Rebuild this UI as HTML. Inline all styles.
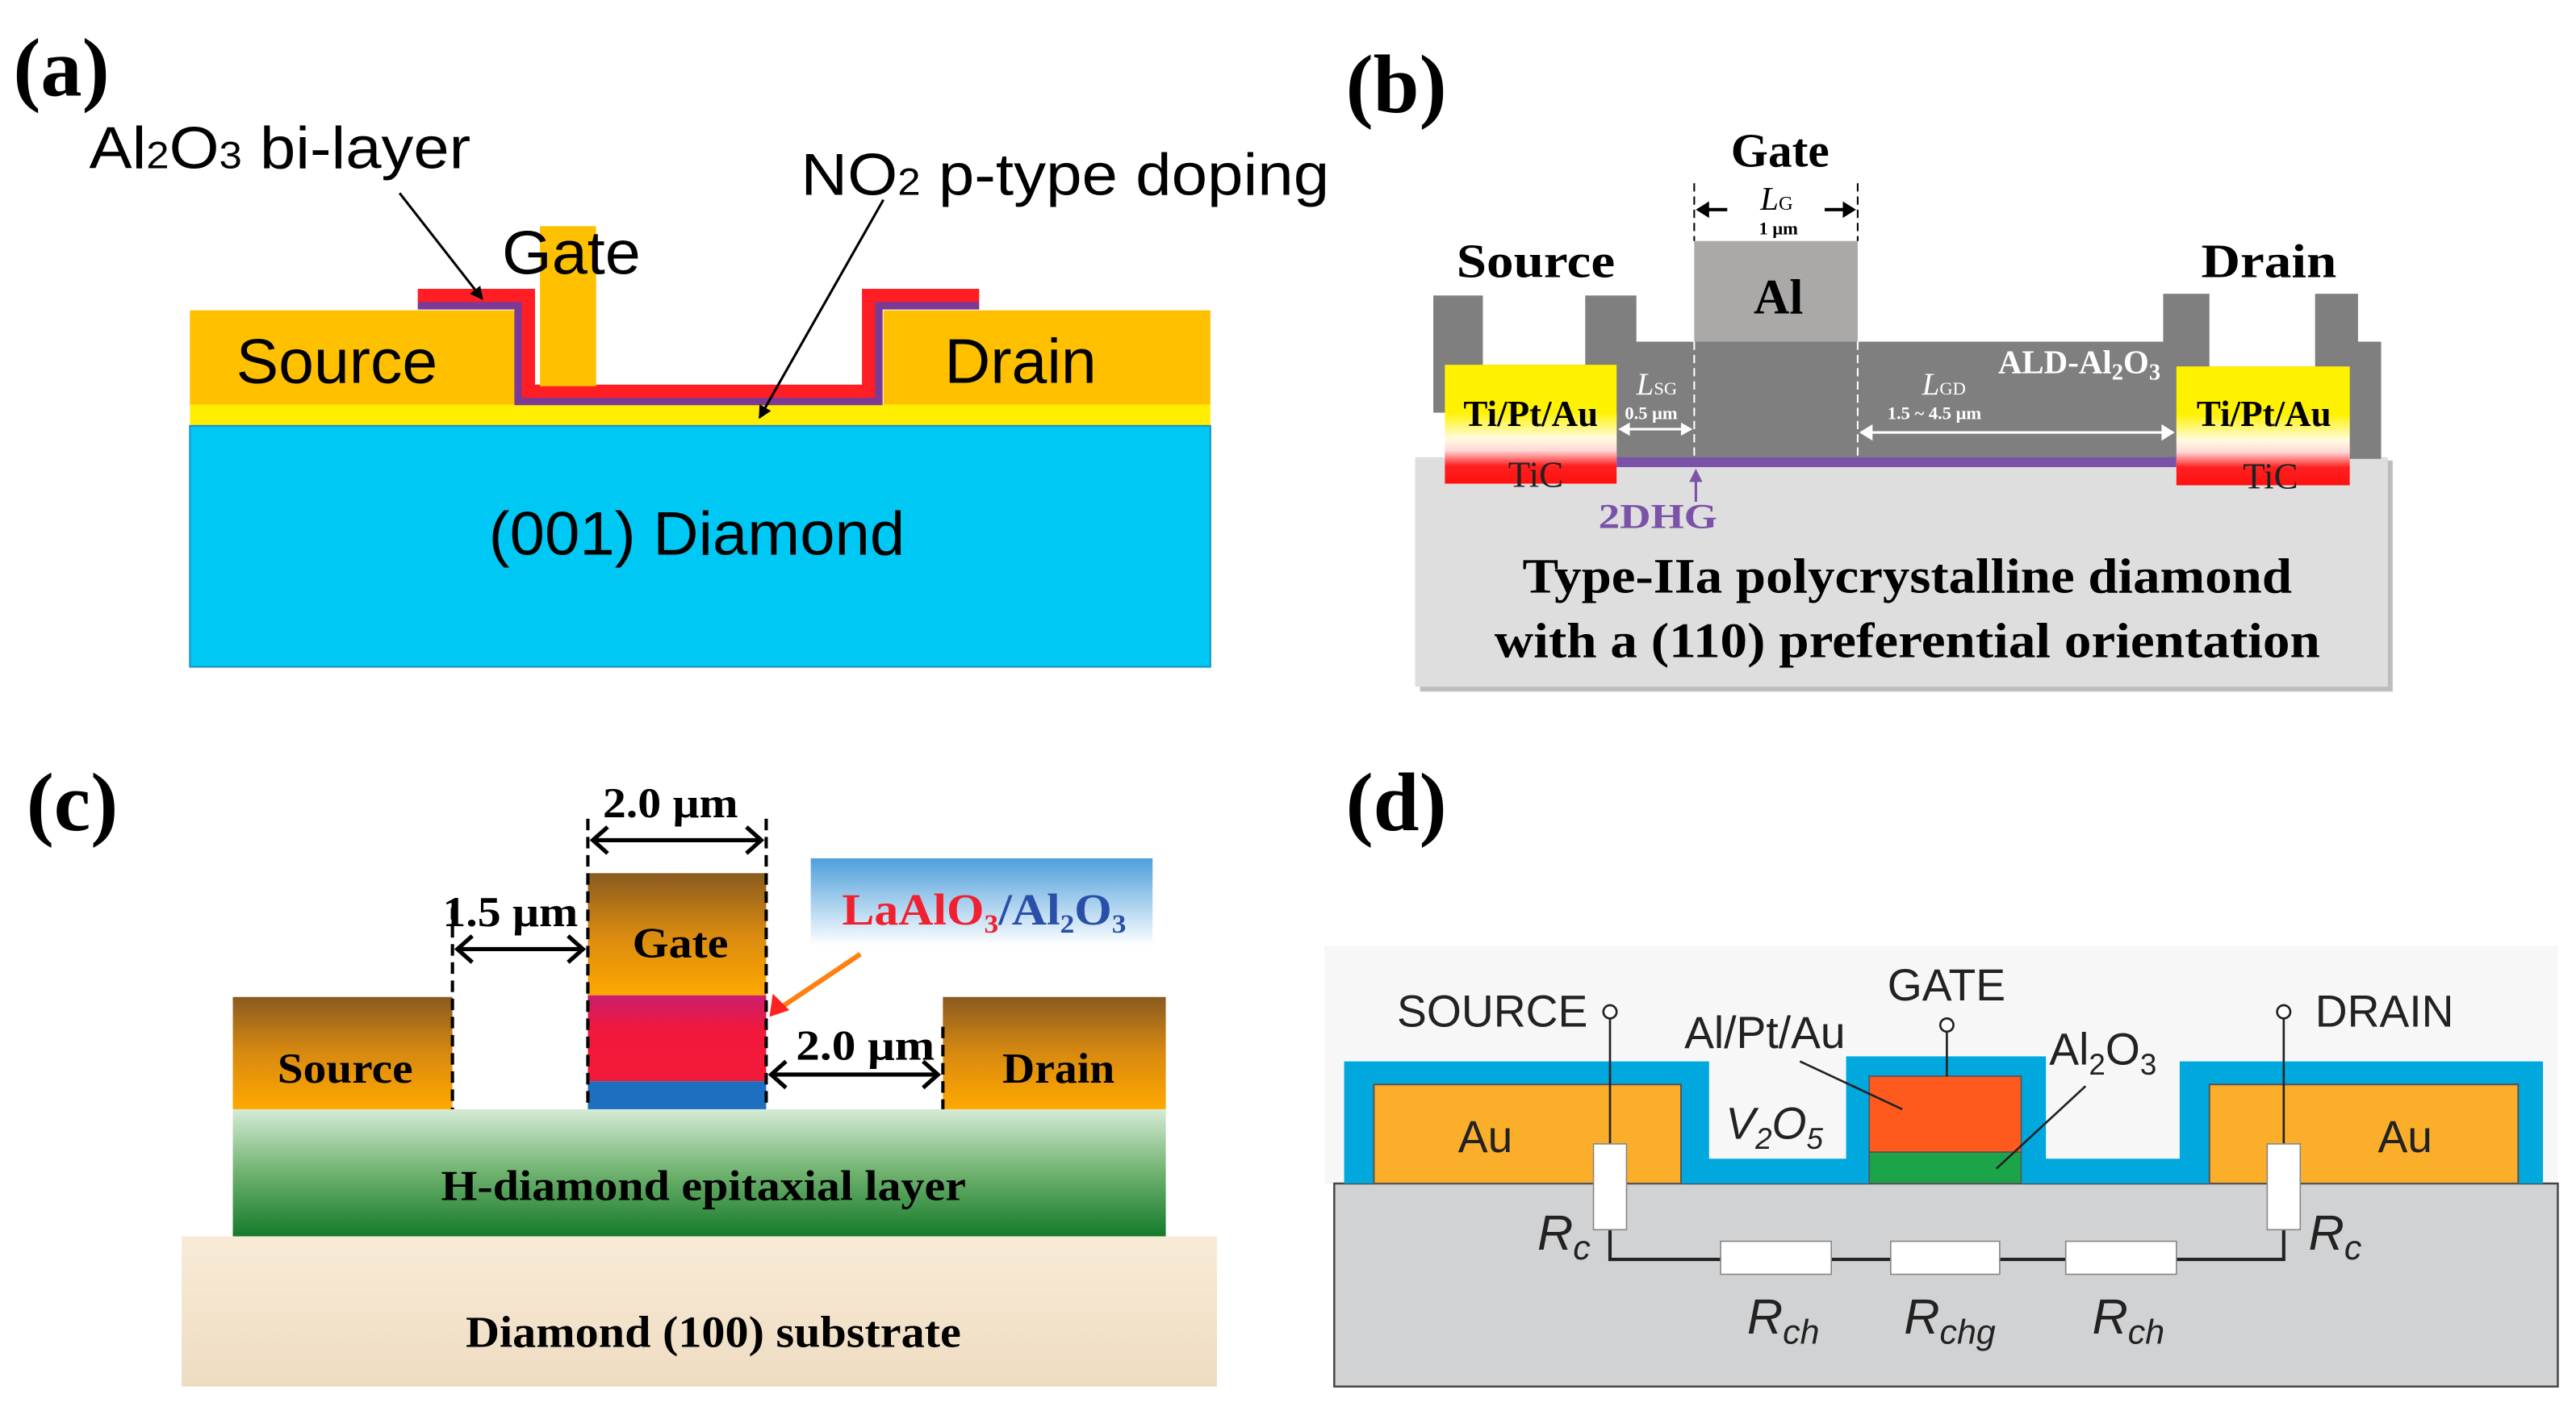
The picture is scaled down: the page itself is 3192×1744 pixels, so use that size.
<!DOCTYPE html>
<html><head><meta charset="utf-8">
<style>html,body{margin:0;padding:0;background:#fff}svg{display:block}
.s{font-family:"Liberation Sans",sans-serif}
.r{font-family:"Liberation Serif",serif;font-weight:bold}
</style></head><body>
<svg width="3192" height="1744" viewBox="0 0 1560 852.4" preserveAspectRatio="none" xmlns="http://www.w3.org/2000/svg">
<defs>
<marker id="ab" markerWidth="8" markerHeight="8" refX="7" refY="4" orient="auto" markerUnits="userSpaceOnUse"><path d="M0,0 L8,4 L0,8z" fill="#000"/></marker>
<linearGradient id="tpa" x1="0" y1="0" x2="0" y2="1"><stop offset="0" stop-color="#FFF200"/><stop offset="0.4" stop-color="#FFF200"/><stop offset="0.62" stop-color="#FFFBE0"/><stop offset="0.72" stop-color="#FFD8D8"/><stop offset="0.85" stop-color="#FF2020"/><stop offset="1" stop-color="#FF1010"/></linearGradient>
<linearGradient id="br" x1="0" y1="0" x2="0" y2="1"><stop offset="0" stop-color="#8A5A20"/><stop offset="0.5" stop-color="#D88A10"/><stop offset="1" stop-color="#FFA800"/></linearGradient>
<linearGradient id="gr" x1="0" y1="0" x2="0" y2="1"><stop offset="0" stop-color="#D6EBD6"/><stop offset="0.5" stop-color="#6FB26F"/><stop offset="1" stop-color="#157A2A"/></linearGradient>
<linearGradient id="be" x1="0" y1="0" x2="0" y2="1"><stop offset="0" stop-color="#F8EBD6"/><stop offset="1" stop-color="#EEDCC2"/></linearGradient>
<linearGradient id="bl" x1="0" y1="0" x2="0" y2="1"><stop offset="0" stop-color="#4D9FDB"/><stop offset="1" stop-color="#FFFFFF"/></linearGradient>
<linearGradient id="rd" x1="0" y1="0" x2="0" y2="1"><stop offset="0" stop-color="#C81E6E"/><stop offset="0.4" stop-color="#F2183C"/><stop offset="1" stop-color="#F21A3A"/></linearGradient>
<linearGradient id="oa" x1="0" y1="0" x2="1" y2="1"><stop offset="0" stop-color="#FFE000"/><stop offset="1" stop-color="#FF2020"/></linearGradient>
</defs>

<!-- (a) -->
<text x="8" y="58" class="r" font-size="50">(a)</text>
<rect x="115" y="188" width="618" height="58" fill="#FFC000"/>
<rect x="312" y="150" width="223" height="96" fill="#fff"/>
<rect x="115" y="245" width="618" height="13" fill="#FFEE00"/>
<rect x="115" y="258" width="618" height="146" fill="#00C8F4" stroke="#1A8FD0" stroke-width="1"/>
<path d="M253,185 L314,185 L314,243 L532,243 L532,185 L593,185" fill="none" stroke="#7B3A96" stroke-width="5"/>
<path d="M253,179 L320,179 L320,237 L526,237 L526,179 L593,179" fill="none" stroke="#FF1E23" stroke-width="8"/>
<rect x="327" y="137" width="34" height="97" fill="#FFC000"/>
<text x="143" y="232" class="s" font-size="38" textLength="122" lengthAdjust="spacingAndGlyphs">Source</text>
<text x="572" y="232" class="s" font-size="38" textLength="92" lengthAdjust="spacingAndGlyphs">Drain</text>
<text x="304" y="166" class="s" font-size="37" textLength="84" lengthAdjust="spacingAndGlyphs">Gate</text>
<text x="296" y="336" class="s" font-size="37" textLength="252" lengthAdjust="spacingAndGlyphs">(001) Diamond</text>
<text x="54" y="102" class="s" font-size="36" textLength="231" lengthAdjust="spacingAndGlyphs">Al<tspan font-size="23">2</tspan>O<tspan font-size="23">3</tspan> bi-layer</text>
<text x="485" y="118" class="s" font-size="36" textLength="320" lengthAdjust="spacingAndGlyphs">NO<tspan font-size="23">2</tspan> p-type doping</text>
<line x1="242" y1="117" x2="292" y2="181" stroke="#000" stroke-width="1.5" marker-end="url(#ab)"/>
<line x1="535" y1="121" x2="460" y2="253" stroke="#000" stroke-width="1.5" marker-end="url(#ab)"/>

<!-- (b) -->
<text x="815" y="68" class="r" font-size="50">(b)</text>
<rect x="857" y="277" width="589" height="139" fill="#DEDEDE"/>
<path d="M1446,279 L1449,279 L1449,419 L860,419 L860,416 L1446,416z" fill="#BDBDBD"/>
<path d="M868,179 L898,179 L898,221 L960,221 L960,179 L991,179 L991,207 L1310,207 L1310,178 L1338,178 L1338,222 L1402,222 L1402,178 L1428,178 L1428,207 L1442,207 L1442,278 L979,278 L979,250 L898,250 L898,250 L868,250z" fill="#7F7F7F"/>
<rect x="1026" y="146" width="99" height="61" fill="#ABA8A8"/>
<rect x="979" y="277" width="339" height="6" fill="#7B52A8"/>
<rect x="875" y="221" width="104" height="72" fill="url(#tpa)"/>
<rect x="1318" y="222" width="105" height="72" fill="url(#tpa)"/>
<g stroke="#fff" stroke-width="1" stroke-dasharray="5,3"><line x1="1026" y1="207" x2="1026" y2="277"/><line x1="1125" y1="207" x2="1125" y2="277"/></g>
<g stroke="#000" stroke-width="1" stroke-dasharray="5,3"><line x1="1026" y1="111" x2="1026" y2="146"/><line x1="1125" y1="111" x2="1125" y2="146"/></g>
<line x1="1029" y1="127" x2="1046" y2="127" stroke="#000" stroke-width="2"/><path d="M1027,127 L1035,122 L1035,132z"/>
<line x1="1105" y1="127" x2="1122" y2="127" stroke="#000" stroke-width="2"/><path d="M1124,127 L1116,122 L1116,132z"/>
<text x="1066" y="127" font-family="Liberation Serif,serif" font-style="italic" font-size="20">L<tspan font-size="12" font-style="normal">G</tspan></text>
<text x="1077" y="142" class="r" font-size="11" text-anchor="middle">1 μm</text>
<text x="1077" y="190" class="r" font-size="30" text-anchor="middle">Al</text>
<text x="1078" y="101" class="r" font-size="29" text-anchor="middle">Gate</text>
<text x="882" y="168" class="r" font-size="29" textLength="96" lengthAdjust="spacingAndGlyphs">Source</text>
<text x="1333" y="168" class="r" font-size="29" textLength="82" lengthAdjust="spacingAndGlyphs">Drain</text>
<text x="927" y="258" class="r" font-size="22" text-anchor="middle">Ti/Pt/Au</text>
<text x="1371" y="258" class="r" font-size="22" text-anchor="middle">Ti/Pt/Au</text>
<text x="930" y="295" font-family="Liberation Serif,serif" font-size="22" text-anchor="middle" fill="#222">TiC</text>
<text x="1375" y="296" font-family="Liberation Serif,serif" font-size="22" text-anchor="middle" fill="#222">TiC</text>
<text x="1210" y="226" class="r" font-size="20" fill="#fff">ALD-Al<tspan font-size="14" dy="4">2</tspan><tspan dy="-4">O</tspan><tspan font-size="14" dy="4">3</tspan></text>
<text x="991" y="239" font-family="Liberation Serif,serif" font-style="italic" font-size="19" fill="#fff">L<tspan font-size="11" font-style="normal">SG</tspan></text>
<text x="984" y="254" class="r" font-size="11" fill="#fff">0.5 μm</text>
<text x="1164" y="239" font-family="Liberation Serif,serif" font-style="italic" font-size="19" fill="#fff">L<tspan font-size="11" font-style="normal">GD</tspan></text>
<text x="1143" y="254" class="r" font-size="11" fill="#fff">1.5 ~ 4.5 μm</text>
<line x1="982" y1="260" x2="1023" y2="260" stroke="#fff" stroke-width="1.5"/><path d="M980,260 L987,256 L987,264z M1025,260 L1018,256 L1018,264z" fill="#fff"/>
<line x1="1128" y1="262" x2="1315" y2="262" stroke="#fff" stroke-width="1.5"/><path d="M1126,262 L1134,257 L1134,267z M1317,262 L1309,257 L1309,267z" fill="#fff"/>
<line x1="1027" y1="304" x2="1027" y2="290" stroke="#7B52A8" stroke-width="1.5"/><path d="M1027,284 L1023,292 L1031,292z" fill="#7B52A8"/>
<text x="968" y="320" class="r" font-size="21" fill="#7B52A8" textLength="72" lengthAdjust="spacingAndGlyphs">2DHG</text>
<text x="922" y="359" class="r" font-size="30" textLength="466" lengthAdjust="spacingAndGlyphs">Type-IIa polycrystalline diamond</text>
<text x="905" y="398" class="r" font-size="30" textLength="500" lengthAdjust="spacingAndGlyphs">with a (110) preferential orientation</text>

<!-- (c) -->
<text x="16" y="503" class="r" font-size="50">(c)</text>
<rect x="110" y="749" width="627" height="91" fill="url(#be)"/>
<rect x="141" y="672" width="565" height="77" fill="url(#gr)"/>
<rect x="141" y="604" width="133" height="68" fill="url(#br)"/>
<rect x="571" y="604" width="135" height="68" fill="url(#br)"/>
<rect x="356" y="529" width="108" height="74" fill="url(#br)"/>
<rect x="356" y="603" width="108" height="52" fill="url(#rd)"/>
<rect x="356" y="655" width="108" height="17" fill="#1E6FC0"/>
<g stroke="#000" stroke-width="2" stroke-dasharray="7,4"><line x1="274" y1="550" x2="274" y2="672"/><line x1="356" y1="496" x2="356" y2="672"/><line x1="464" y1="496" x2="464" y2="672"/><line x1="571" y1="622" x2="571" y2="672"/></g>
<g stroke="#000" stroke-width="2.5" fill="none">
<line x1="359" y1="509" x2="461" y2="509"/><path d="M368,501 L359,509 L368,517 M452,501 L461,509 L452,517"/>
<line x1="277" y1="575" x2="353" y2="575"/><path d="M286,567 L277,575 L286,583 M344,567 L353,575 L344,583"/>
<line x1="467" y1="651" x2="568" y2="651"/><path d="M476,643 L467,651 L476,659 M559,643 L568,651 L559,659"/>
</g>
<text x="365" y="495" class="r" font-size="26" textLength="82" lengthAdjust="spacingAndGlyphs">2.0 μm</text>
<text x="268" y="561" class="r" font-size="26" textLength="82" lengthAdjust="spacingAndGlyphs">1.5 μm</text>
<text x="482" y="642" class="r" font-size="26" textLength="84" lengthAdjust="spacingAndGlyphs">2.0 μm</text>
<rect x="491" y="520" width="207" height="53" fill="url(#bl)"/>
<text x="510" y="560" font-family="Liberation Serif,serif" font-weight="bold" font-size="27" fill="#F02030" textLength="172" lengthAdjust="spacingAndGlyphs">LaAlO<tspan font-size="16" dy="5">3</tspan><tspan dy="-5" fill="#2A4FA8">/Al</tspan><tspan font-size="16" dy="5" fill="#2A4FA8">2</tspan><tspan dy="-5" fill="#2A4FA8">O</tspan><tspan font-size="16" dy="5" fill="#2A4FA8">3</tspan></text>
<line x1="521" y1="578" x2="472" y2="611" stroke="url(#oa)" stroke-width="3"/>
<path d="M466,616 L468,602 L478,612z" fill="#FF2020"/>
<text x="168" y="656" class="r" font-size="26" textLength="82" lengthAdjust="spacingAndGlyphs">Source</text>
<text x="607" y="656" class="r" font-size="26" textLength="68" lengthAdjust="spacingAndGlyphs">Drain</text>
<text x="383" y="580" class="r" font-size="26" textLength="58" lengthAdjust="spacingAndGlyphs">Gate</text>
<text x="267" y="727" class="r" font-size="26" textLength="318" lengthAdjust="spacingAndGlyphs">H-diamond epitaxial layer</text>
<text x="282" y="816" class="r" font-size="27" textLength="300" lengthAdjust="spacingAndGlyphs">Diamond (100) substrate</text>

<!-- (d) -->
<text x="815" y="503" class="r" font-size="50">(d)</text>
<rect x="802" y="573" width="747" height="144" fill="#F7F7F7"/>
<rect x="808" y="717" width="741" height="123" fill="#D1D2D4" stroke="#444" stroke-width="1.2"/>
<path d="M814,643 L1035,643 L1035,702 L1118,702 L1118,640 L1239,640 L1239,702 L1320,702 L1320,643 L1540,643 L1540,717 L814,717z" fill="#00A8DE"/>
<rect x="832" y="657" width="186" height="60" fill="#FBAE2A" stroke="#555" stroke-width="1"/>
<rect x="1338" y="657" width="187" height="60" fill="#FBAE2A" stroke="#555" stroke-width="1"/>
<rect x="1132" y="652" width="92" height="46" fill="#FF5A1E" stroke="#555" stroke-width="0.8"/>
<rect x="1132" y="698" width="92" height="19" fill="#1BA548" stroke="#555" stroke-width="0.8"/>
<g stroke="#222" stroke-width="1.3" fill="none">
<line x1="975" y1="617" x2="975" y2="693"/><circle cx="975" cy="613" r="4" fill="#fff"/>
<line x1="1179" y1="625" x2="1179" y2="652"/><circle cx="1179" cy="621" r="4" fill="#fff"/>
<line x1="1383" y1="617" x2="1383" y2="693"/><circle cx="1383" cy="613" r="4" fill="#fff"/>
<path d="M975,745 L975,763 L1383,763 L1383,745" stroke-width="2"/>
<line x1="1090" y1="643" x2="1152" y2="672"/>
<line x1="1263" y1="658" x2="1209" y2="708"/>
</g>
<g fill="#fff" stroke="#888" stroke-width="0.8">
<rect x="965" y="693" width="20" height="52"/><rect x="1373" y="693" width="20" height="52"/>
<rect x="1042" y="752" width="67" height="20"/><rect x="1145" y="752" width="66" height="20"/><rect x="1251" y="752" width="67" height="20"/>
</g>
<g class="s" fill="#222">
<text x="846" y="622" font-size="27">SOURCE</text>
<text x="1143" y="606" font-size="27">GATE</text>
<text x="1402" y="622" font-size="27">DRAIN</text>
<text x="1020" y="635" font-size="27">Al/Pt/Au</text>
<text x="1241" y="645" font-size="27">Al<tspan font-size="18" dy="6">2</tspan><tspan dy="-6">O</tspan><tspan font-size="18" dy="6">3</tspan></text>
<text x="1045" y="690" font-size="27" font-style="italic">V<tspan font-size="18" dy="6">2</tspan><tspan dy="-6">O</tspan><tspan font-size="18" dy="6">5</tspan></text>
<text x="883" y="698" font-size="27">Au</text>
<text x="1440" y="698" font-size="27">Au</text>
<text x="931" y="757" font-size="30" font-style="italic">R<tspan font-size="21" dy="6">c</tspan></text>
<text x="1398" y="757" font-size="30" font-style="italic">R<tspan font-size="21" dy="6">c</tspan></text>
<text x="1058" y="808" font-size="30" font-style="italic">R<tspan font-size="21" dy="6">ch</tspan></text>
<text x="1153" y="808" font-size="30" font-style="italic">R<tspan font-size="21" dy="6">chg</tspan></text>
<text x="1267" y="808" font-size="30" font-style="italic">R<tspan font-size="21" dy="6">ch</tspan></text>
</g>
</svg>
</body></html>
